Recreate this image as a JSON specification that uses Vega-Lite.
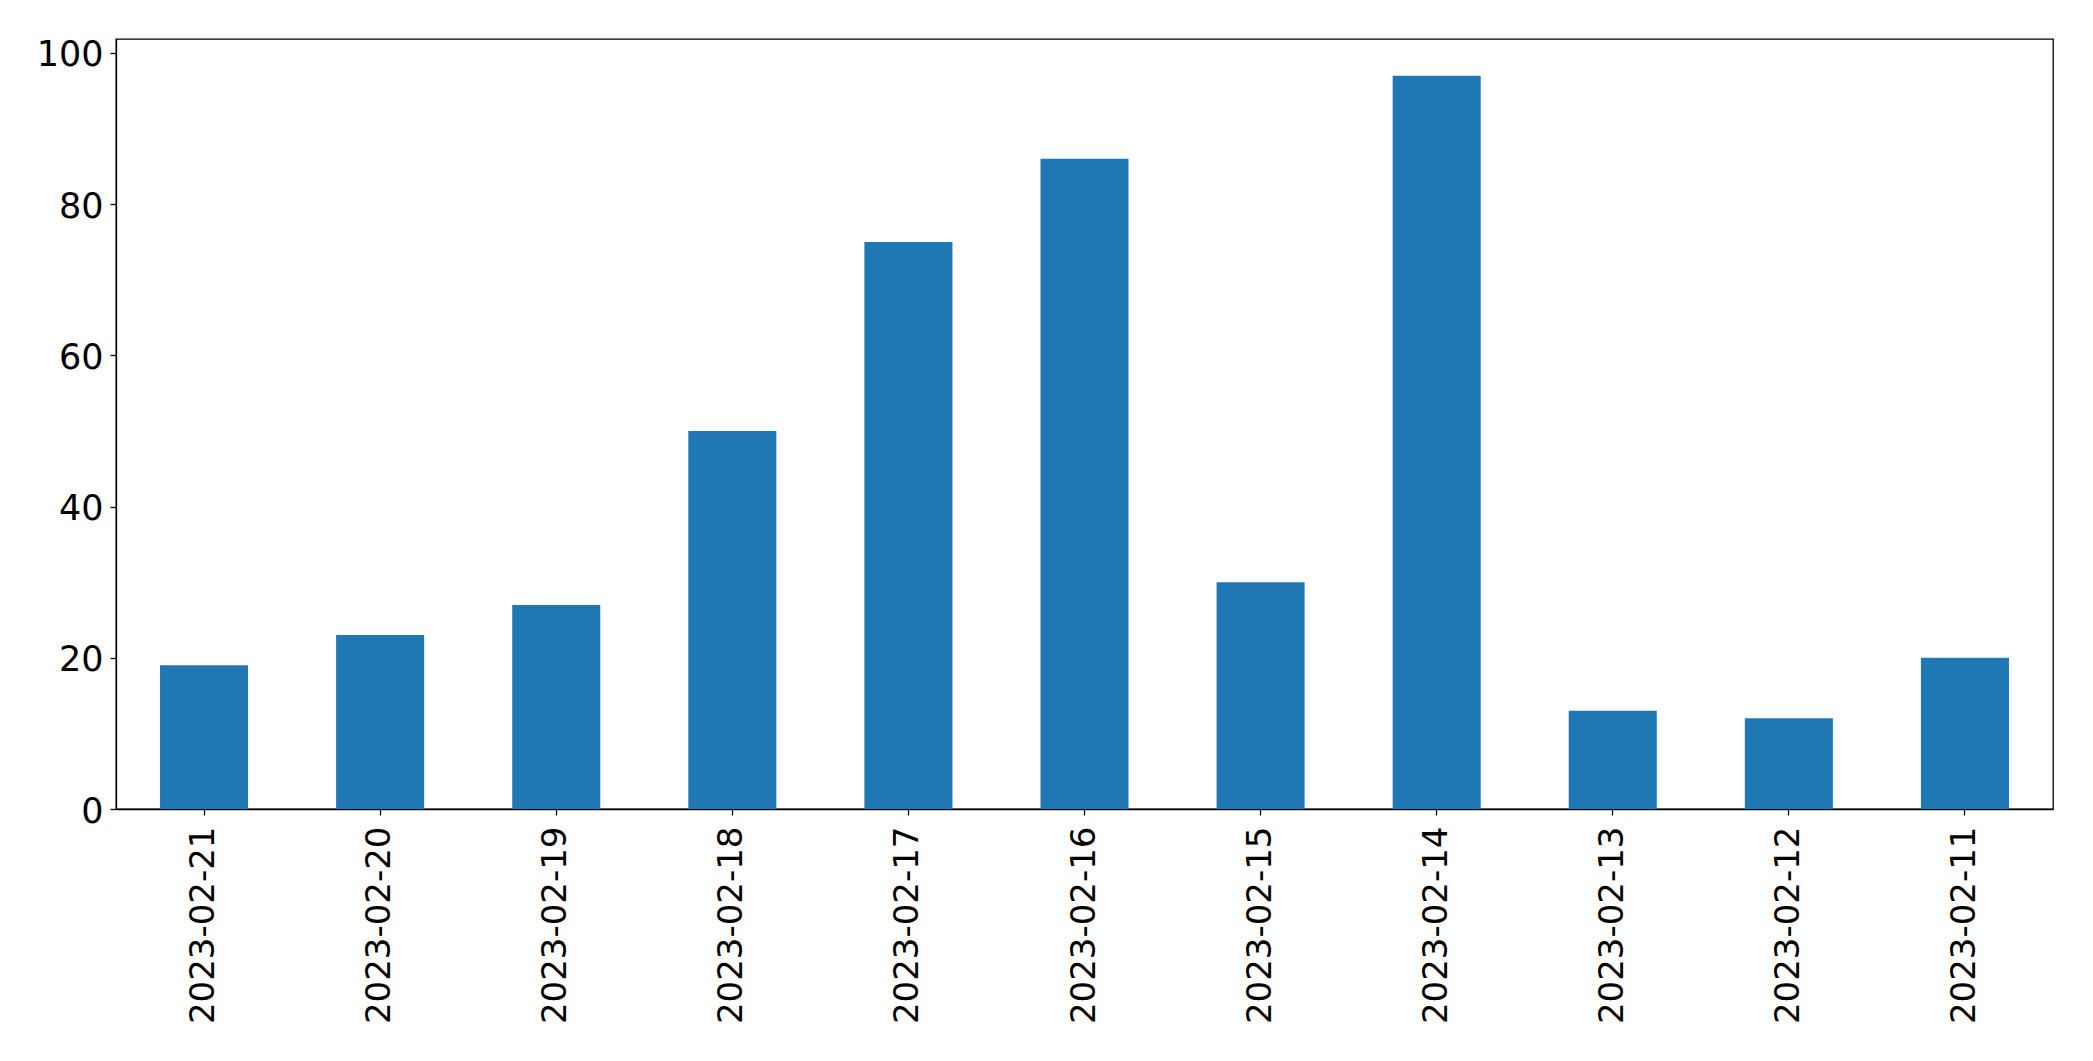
{
  "$schema": "https://vega.github.io/schema/vega-lite/v6.json",
  "autosize": "none",
  "width": 1937,
  "height": 770,
  "padding": {"left": 116, "top": 39, "right": 40, "bottom": 252},
  "background": "white",
  "data": {
    "values": [
      {"date": "2023-02-21", "count": 19},
      {"date": "2023-02-20", "count": 23},
      {"date": "2023-02-19", "count": 27},
      {"date": "2023-02-18", "count": 50},
      {"date": "2023-02-17", "count": 75},
      {"date": "2023-02-16", "count": 86},
      {"date": "2023-02-15", "count": 30},
      {"date": "2023-02-14", "count": 97},
      {"date": "2023-02-13", "count": 13},
      {"date": "2023-02-12", "count": 12},
      {"date": "2023-02-11", "count": 20}
    ]
  },
  "config": {
    "view": {"stroke": "black", "strokeWidth": 1.3},
    "axis": {
      "labelFont": "DejaVu Sans",
      "labelFontSize": 35,
      "labelColor": "black",
      "labelLimit": 0,
      "domainColor": "black",
      "tickColor": "black",
      "tickWidth": 1.3,
      "domainWidth": 1.3,
      "grid": false,
      "title": null
    }
  },
  "mark": {"type": "bar", "color": "#1f77b4"},
  "encoding": {
    "x": {
      "field": "date",
      "type": "nominal",
      "sort": null,
      "scale": {"paddingInner": 0.5, "paddingOuter": 0.25},
      "axis": {"labelAngle": -90, "tickSize": 6, "labelPadding": 11, "labelFontSize": 34}
    },
    "y": {
      "field": "count",
      "type": "quantitative",
      "scale": {"domain": [0, 101.85], "nice": false},
      "axis": {"values": [0, 20, 40, 60, 80, 100], "tickSize": 6, "labelPadding": 7, "labelOffset": 2}
    }
  }
}
